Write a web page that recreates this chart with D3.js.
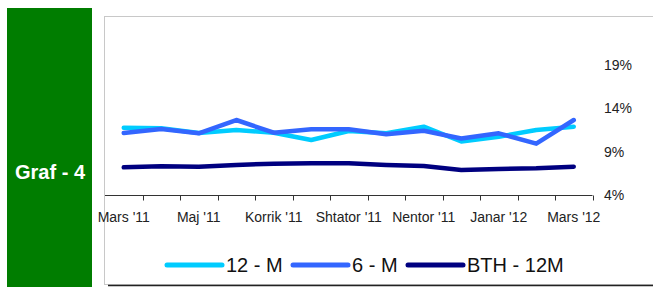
<!DOCTYPE html>
<html><head><meta charset="utf-8">
<script src="https://cdn.jsdelivr.net/npm/d3@7"></script>
<style>body{margin:0;background:#fff}svg{display:block}</style>
</head><body>
<svg id="c" width="653" height="287"></svg>
<script>
const categories = ["Mars '11","Prill '11","Maj '11","Qershor '11","Korrik '11","Gusht '11","Shtator '11","Tetor '11","Nentor '11","Dhjetor '11","Janar '12","Shkurt '12","Mars '12"];
const m12 = [11.74,11.67,11.13,11.47,11.16,10.32,11.36,11.09,11.85,10.15,10.70,11.47,11.85];
const m6  = [11.13,11.59,11.09,12.62,11.16,11.55,11.55,10.98,11.39,10.49,11.09,9.90,12.62];
const bth = [7.18,7.30,7.25,7.45,7.60,7.64,7.64,7.45,7.33,6.87,6.99,7.07,7.25];
const yTicks = [4,9,14,19];
const seriesNames = ["12 - M","6 - M","BTH - 12M"];
const colors = ["#00CCFF","#3366FF","#000080"];

const svg = d3.select("#c");
// green side box
svg.append("rect").attr("x",7).attr("y",8).attr("width",85).attr("height",279).attr("fill","#007D00");
svg.append("text").attr("x",50).attr("y",179).attr("text-anchor","middle")
  .attr("font-family","Liberation Sans, Arial, sans-serif").attr("font-size",20).attr("font-weight","bold").attr("fill","#fff").text("Graf - 4");
// chart frame
svg.append("rect").attr("x",104.5).attr("y",16.5).attr("width",560).attr("height",268).attr("fill","#fff").attr("stroke","#c8c8c8");
svg.append("line").attr("x1",108).attr("x2",653).attr("y1",285.5).attr("y2",285.5).attr("stroke","#222").attr("stroke-width",1.5);

const x = d3.scaleBand().domain(categories).range([105,592.5]);
const y = d3.scaleLinear().domain([4,24]).range([195,21]);

// x axis
const xg = svg.append("g").attr("transform","translate(0,195.5)");
xg.append("line").attr("x1",105).attr("x2",592.5).attr("stroke","#333");
const bounds = d3.range(1,categories.length+1).map(i=> x(categories[i-1])+x.bandwidth());
xg.selectAll(".t").data(bounds).enter().append("line").attr("x1",d=>Math.round(d)+0.5).attr("x2",d=>Math.round(d)+0.5).attr("y1",0).attr("y2",5).attr("stroke","#333");
xg.selectAll(".l").data(categories.filter((d,i)=>i%2===0)).enter().append("text")
  .attr("x",d=>x(d)+x.bandwidth()/2).attr("y",26).attr("text-anchor","middle")
  .attr("font-family","Liberation Sans, Arial, sans-serif").attr("font-size",14).attr("fill","#222").text(d=>d);
// y labels
svg.selectAll(".yl").data(yTicks).enter().append("text").attr("x",604).attr("y",d=>y(d)+5)
  .attr("font-family","Liberation Sans, Arial, sans-serif").attr("font-size",14).attr("fill","#222").text(d=>d+"%");

const line = d3.line().x((d,i)=>x(categories[i])+x.bandwidth()/2).y(d=>y(d));
[m12,m6,bth].forEach((s,k)=>{
  svg.append("path").attr("d",line(s)).attr("fill","none").attr("stroke",colors[k])
    .attr("stroke-width",4.5).attr("stroke-linecap","round").attr("stroke-linejoin","round");
});

// legend
const lx = [167,293,408];
seriesNames.forEach((n,k)=>{
  svg.append("line").attr("x1",lx[k]).attr("x2",lx[k]+55).attr("y1",265).attr("y2",265)
    .attr("stroke",colors[k]).attr("stroke-width",5).attr("stroke-linecap","round");
  svg.append("text").attr("x",lx[k]+59).attr("y",272).attr("font-family","Liberation Sans, Arial, sans-serif")
    .attr("font-size",20).attr("fill","#111").text(n);
});
</script>
</body></html>
